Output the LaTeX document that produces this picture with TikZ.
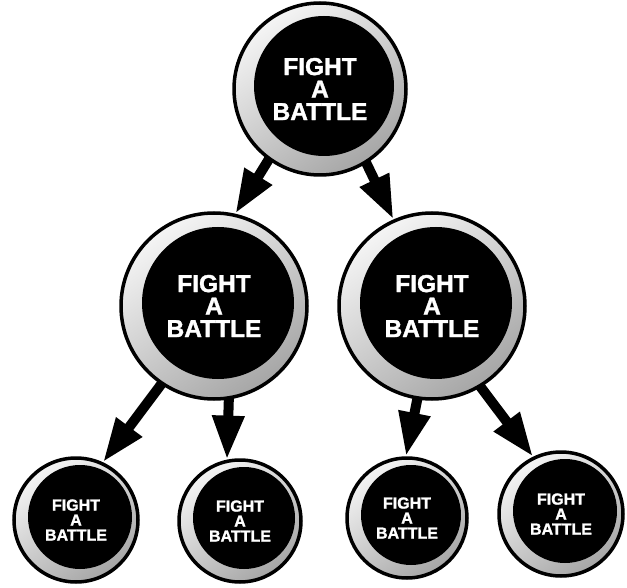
\documentclass[tikz,border=0pt]{standalone}
\usepackage{fontspec}
\setmainfont{Liberation Sans}[BoldFeatures={FakeBold=1.5}]
\usetikzlibrary{arrows.meta,backgrounds}
\begin{document}
\begin{tikzpicture}[x=1pt,y=-1pt,
  battle/.style 2 args={circle,draw=black,line width=3.5pt,minimum size=#1,
    top color=gray!8,bottom color=gray!70,shading angle=35,
    path picture={\fill[black] ([shift={(4,-3)}]path picture bounding box.center) circle (#2);},
    text=white,align=center,inner sep=0pt},
  bigfont/.style={font=\bfseries\fontsize{24.5}{22.5}\selectfont},
  smallfont/.style={font=\bfseries\fontsize{16}{15}\selectfont},
  bigarrow/.style={draw=black,line width=10pt,shorten <=-14pt,
    -{Triangle[length=44pt,width=30pt]}}]
  \useasboundingbox (0,0) rectangle (627,588);
  \node[battle={172}{70},bigfont] (top) at (320,89) {FIGHT\\A\\BATTLE};
  \node[battle={186}{76},bigfont] (ml) at (214,306) {FIGHT\\A\\BATTLE};
  \node[battle={186}{76},bigfont] (mr) at (432,306) {FIGHT\\A\\BATTLE};
  \node[battle={124}{52},smallfont] (bl1) at (76,520) {FIGHT\\A\\BATTLE};
  \node[battle={122}{51},smallfont] (bl2) at (240,521) {FIGHT\\A\\BATTLE};
  \node[battle={120}{50},smallfont] (br1) at (407,518) {FIGHT\\A\\BATTLE};
  \node[battle={124}{52},smallfont] (br2) at (561,514) {FIGHT\\A\\BATTLE};
  \begin{scope}[on background layer]
    \draw[bigarrow] (top.234) -- (ml.77);
    \draw[bigarrow] (top.302) -- (mr.114);
    \draw[bigarrow] (ml.236) -- (bl1.65);
    \draw[bigarrow] (ml.279) -- (bl2.102);
    \draw[bigarrow] (mr.261) -- (br1.91);
    \draw[bigarrow] (mr.301) -- (br2.116);
  \end{scope}
\end{tikzpicture}
\end{document}
